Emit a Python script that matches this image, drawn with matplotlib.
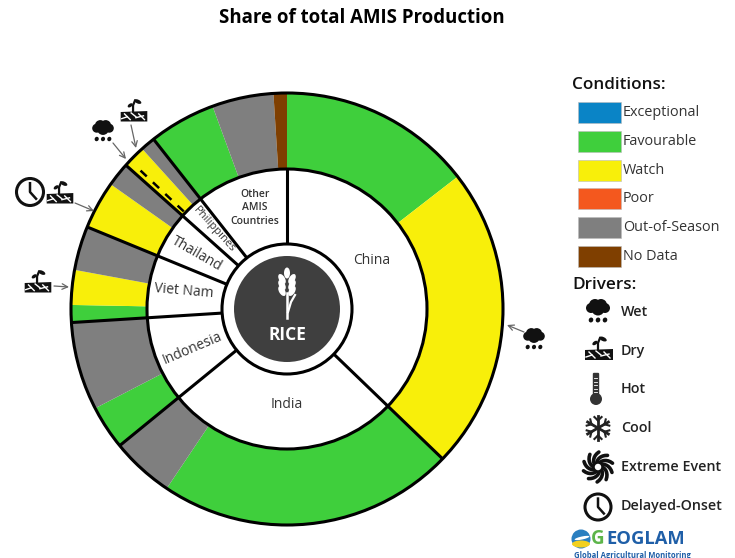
import numpy as np
import matplotlib
matplotlib.use('Agg')
import matplotlib.pyplot as plt
from matplotlib.patches import Circle, Ellipse, Rectangle, Polygon, FancyBboxPatch

plt.rcParams['font.family'] = ['Open Sans', 'DejaVu Sans']

# shares of total production, going clockwise from the top
countries = ['China', 'India', 'Indonesia', 'Viet Nam', 'Thailand', 'Philippines', 'Other AMIS Countries']
country_share = [37.2, 26.9, 9.9, 7.2, 5.4, 2.8, 10.6]
ring_share = [14.5, 22.7, 22.2, 4.7, 3.3, 6.6, 1.3, 2.6, 3.3, 3.6, 1.8, 1.7, 1.1, 5.0, 4.6, 1.0]
ring_cond = ['Favourable', 'Watch', 'Favourable', 'Out-of-Season', 'Favourable', 'Out-of-Season',
             'Favourable', 'Watch', 'Out-of-Season', 'Watch', 'Out-of-Season', 'Watch', 'Out-of-Season',
             'Favourable', 'Out-of-Season', 'No Data']
cond_names = ['Exceptional', 'Favourable', 'Watch', 'Poor', 'Out-of-Season', 'No Data']
cond_colors = ['#0A84C6', '#3FCF3C', '#F8EF0A', '#F4581E', '#7F7F7F', '#7F3F00']
driver_names = ['Wet', 'Dry', 'Hot', 'Cool', 'Extreme Event', 'Delayed-Onset']

CX, CY = 287, 309
R_OUT, R_IN, R_HUB, R_DARK = 216, 140, 65, 53
TXT = '#333333'

fig = plt.figure(figsize=(7.35, 5.58), dpi=100)
ax = fig.add_axes([0, 0, 1, 1])


def pos(share, r):
    a = np.radians(share * 3.6)
    return CX + r * np.sin(a), CY - r * np.cos(a)


def cloud(x, y, s=1.0):
    for dx, dy, r in [(-7, -2, 5), (-3, -5, 6), (3, -5, 6), (7, -2, 5), (0, -1, 6.5)]:
        ax.add_patch(Circle((x + dx * s, y + dy * s), r * s, color='#111111', lw=0, zorder=6))
    for dx in [-7, 0, 7]:
        ax.add_patch(Ellipse((x + dx * s, y + 10 * s), 4.5 * s, 5 * s, angle=25, color='#111111', lw=0, zorder=6))


def dry(x, y, s=1.0):
    ax.add_patch(Polygon([(x - 14 * s, y + 0 * s), (x + 14 * s, y - 1 * s), (x + 14 * s, y + 10 * s),
                          (x - 14 * s, y + 10 * s)], color='#111111', lw=0, zorder=6))
    for a, b in [((-10, 2), (-4, 8)), ((-3, 1), (2, 5)), ((2, 6), (10, 4)), ((-13, 7), (-7, 5)), ((5, 2), (11, 8))]:
        ax.plot([x + a[0] * s, x + b[0] * s], [y + a[1] * s, y + b[1] * s], color='white', lw=1, zorder=7)
    ax.plot([x - 1 * s, x - 1 * s, x + 1 * s], [y + 1 * s, y - 7 * s, y - 12 * s], color='#111111', lw=1.6, zorder=6)
    ax.add_patch(Ellipse((x + 4 * s, y - 11 * s), 8 * s, 4 * s, angle=25, color='#111111', lw=0, zorder=6))
    ax.add_patch(Ellipse((x - 4 * s, y - 7 * s), 6 * s, 3.5 * s, angle=-35, color='#111111', lw=0, zorder=6))


def clock(x, y, r=14):
    ax.add_patch(Circle((x, y), r, fc='white', ec='#111111', lw=2.2, zorder=6))
    ax.plot([x, x, x + r * 0.45], [y - r * 0.65, y, y + r * 0.5], color='#111111', lw=1.8, zorder=7)


def thermometer(x, y):
    ax.add_patch(FancyBboxPatch((x - 2, y - 15), 4, 22, boxstyle='round,pad=1.2', color='#333333', lw=0, zorder=6))
    ax.add_patch(Circle((x, y + 10), 6, color='#333333', lw=0, zorder=6))
    for i in range(5):
        ax.plot([x - 1.5, x + 1.5], [y - 11 + i * 3.5] * 2, color='white', lw=0.6, zorder=7)


def snowflake(x, y):
    for a in np.radians([0, 60, 120]):
        dx, dy = 12 * np.sin(a), 12 * np.cos(a)
        ax.plot([x - dx, x + dx], [y - dy, y + dy], color='#222222', lw=2, zorder=6)
    for a in np.radians(np.arange(0, 360, 60)):
        bx, by = x + 7.5 * np.sin(a), y + 7.5 * np.cos(a)
        for b in [a - 0.8, a + 0.8]:
            ax.plot([bx, bx + 5 * np.sin(b)], [by, by + 5 * np.cos(b)], color='#222222', lw=1.5, zorder=6)


def storm(x, y):
    ax.add_patch(Circle((x, y), 4.5, fc='white', ec='#111111', lw=1.8, zorder=7))
    for a in np.radians(np.arange(0, 360, 36)):
        t = np.linspace(0, 1, 8)
        px = x + (4 + 11 * t) * np.cos(a + 1.0 * t)
        py = y + (4 + 11 * t) * np.sin(a + 1.0 * t)
        ax.plot(px, py, color='#111111', lw=2.6, solid_capstyle='round', zorder=6)


def arrow(a, b):
    ax.annotate('', xy=b, xytext=a, arrowprops=dict(arrowstyle='->', color='#666666', lw=0.9, shrinkA=0, shrinkB=0),
                zorder=6)


# outer ring and inner country pie
ring_colors = [cond_colors[cond_names.index(c)] for c in ring_cond]
ax.pie(ring_share, colors=ring_colors, radius=R_OUT, center=(CX, CY), startangle=-90, counterclock=True,
       wedgeprops=dict(width=R_OUT - R_IN, lw=0))
ax.pie(country_share, colors=['white'] * len(countries), radius=R_IN, center=(CX, CY), startangle=-90,
       counterclock=True, wedgeprops=dict(lw=0))

ax.set_xlim(0, 735)
ax.set_ylim(558, 0)
ax.set_aspect('equal')
ax.axis('off')

# country boundaries, no line through the ring at the top
edges = np.cumsum(country_share)
for e in edges[:-1]:
    p0, p1 = pos(e, R_HUB), pos(e, R_OUT)
    ax.plot([p0[0], p1[0]], [p0[1], p1[1]], color='black', lw=2.2, zorder=3, solid_capstyle='butt')
p0, p1 = pos(0, R_HUB), pos(0, R_IN)
ax.plot([p0[0], p1[0]], [p0[1], p1[1]], color='black', lw=2.2, zorder=3, solid_capstyle='butt')

ax.add_patch(Circle((CX, CY), R_OUT, fc='none', ec='black', lw=2.2, zorder=4))
ax.add_patch(Circle((CX, CY), R_IN, fc='none', ec='black', lw=2.2, zorder=4))
ax.add_patch(Circle((CX, CY), R_HUB, fc='white', ec='black', lw=2.2, zorder=4))
ax.add_patch(Circle((CX, CY), R_DARK, fc='#3F3F3F', ec='none', zorder=5))

# dashed line inside the Philippines watch segment
dash = sum(country_share[:5]) + 0.45
p0, p1 = pos(dash, R_IN + 2), pos(dash, R_OUT - 6)
ax.plot([p0[0], p1[0]], [p0[1], p1[1]], color='black', lw=1.8, ls=(0, (3.4, 3.4)), zorder=3)

# wheat in the hub
ax.plot([287, 287], [293, 318], color='white', lw=1.8, zorder=6)
ax.plot([288, 291, 295], [312, 302, 295], color='white', lw=1.6, zorder=6)
ax.add_patch(Ellipse((287, 273), 6, 11, color='white', lw=0, zorder=6))
for dy in [279, 285, 291]:
    ax.add_patch(Ellipse((282, dy), 6, 11, angle=-30, color='white', lw=0, zorder=6))
    ax.add_patch(Ellipse((292, dy), 6, 11, angle=30, color='white', lw=0, zorder=6))
ax.text(287, 334.5, 'RICE', color='white', fontsize=12.5, fontweight='bold', ha='center', va='center', zorder=6)

# country labels
label_pos = [(372, 261, 0, 10), (287, 404, 0, 10), (192, 348, 23, 10), (184, 291, -5, 10),
             (197, 254, -30, 10), (214, 230, -48, 8), (255, 208, 0, 7.5)]
for name, (x, y, rot, fs) in zip(countries, label_pos):
    weight = 'normal'
    if name.startswith('Other'):
        name = 'Other\nAMIS\nCountries'
        weight = 'semibold'
    ax.text(x, y, name, color=TXT, fontsize=fs, rotation=rot, ha='center', va='center', fontweight=weight,
            rotation_mode='anchor', linespacing=1.35, zorder=6)

ax.text(362, 18, 'Share of total AMIS Production', color='black', fontsize=13.4, fontweight='bold',
        ha='center', va='center')

# legend
ax.text(572, 85, 'Conditions:', color='#111111', fontsize=12.3, fontweight='semibold', va='center')
for i, (name, col) in enumerate(zip(cond_names, cond_colors)):
    top = 102 + i * 28.8
    ax.add_patch(Rectangle((578, top), 43, 21, fc=col, ec='#BBBBBB', lw=0.4))
    ax.text(623, top + 10.5, name, color=TXT, fontsize=10.4, va='center')

ax.text(572, 285, 'Drivers:', color='#111111', fontsize=12.3, fontweight='semibold', va='center')
driver_y = [312, 351, 389, 428, 467, 506]
for name, y in zip(driver_names, driver_y):
    ax.text(621, y, name, color='#222222', fontsize=10.3, fontweight='semibold', va='center')
cloud(598, 310)
dry(599, 350)
thermometer(596, 389)
snowflake(598, 428)
storm(598, 467)
clock(598, 507, 13)

# drivers on the chart
cloud(534, 338, 0.9)
arrow((524, 332), (507, 325))
cloud(103, 130, 0.9)
arrow((113, 143), (126, 159))
dry(134, 112, 0.95)
arrow((131, 125), (136, 148))
clock(30, 192, 13.5)
dry(60, 194, 0.95)
arrow((75, 203), (94, 211))
dry(38, 283, 0.95)
arrow((54, 286), (69, 287))

# GEOGLAM logo, cut by the bottom of the image
ax.add_patch(Circle((581, 539), 9.5, fc='#2A7FC0', lw=0))
ax.add_patch(Ellipse((581, 544), 18, 7, fc='#F2D01E', lw=0))
ax.add_patch(Ellipse((582, 538), 15, 3, angle=-12, fc='white', lw=0))
ax.text(591, 538.5, 'G', color='#5DB54A', fontsize=13.5, fontweight='bold', va='center')
ax.text(606, 538.5, 'EOGLAM', color='#1F5FA8', fontsize=13.2, fontweight='bold', va='center')
ax.text(574, 555, 'Global Agricultural Monitoring', color='#1F5FA8', fontsize=5.5, fontweight='bold',
        va='center', clip_on=True)

fig.savefig('out.png', dpi=100)
